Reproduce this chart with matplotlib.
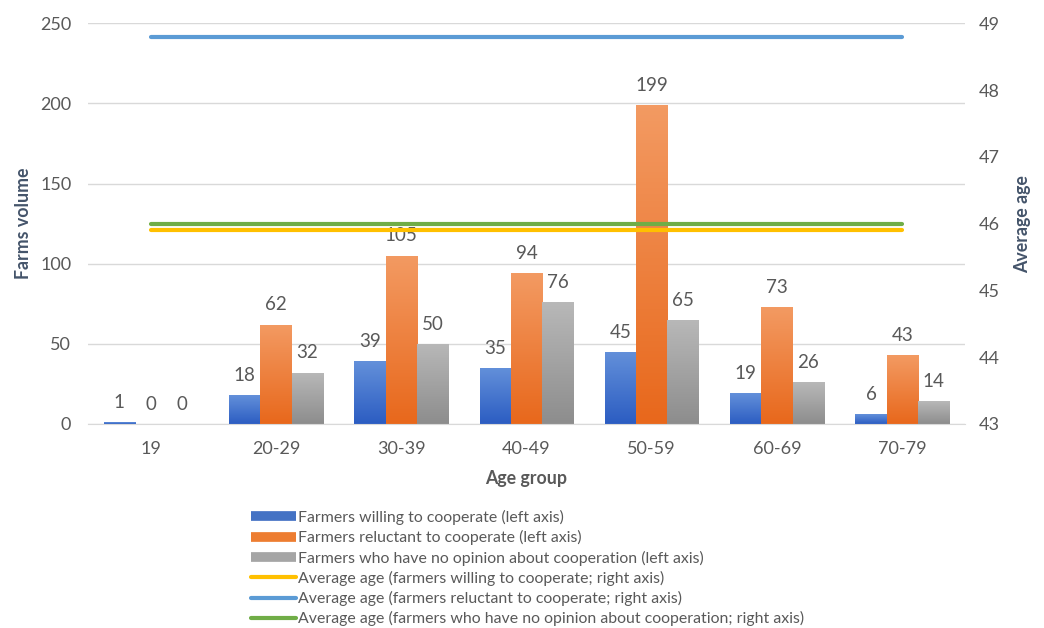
import numpy as np
import matplotlib.pyplot as plt
from matplotlib.lines import Line2D
from matplotlib.colors import LinearSegmentedColormap

plt.rcParams['font.family'] = ['Lato', 'DejaVu Sans']

age_groups = ['19', '20-29', '30-39', '40-49', '50-59', '60-69', '70-79']
willing = [1, 18, 39, 35, 45, 19, 6]
reluctant = [0, 62, 105, 94, 199, 73, 43]
no_opinion = [0, 32, 50, 76, 65, 26, 14]

avg_willing = 45.9
avg_reluctant = 48.8
avg_no_opinion = 46.0

labels = ['Farmers willing to cooperate (left axis)',
          'Farmers reluctant to cooperate (left axis)',
          'Farmers who have no opinion about cooperation (left axis)',
          'Average age (farmers willing to cooperate; right axis)',
          'Average age (farmers reluctant to cooperate; right axis)',
          'Average age (farmers who have no opinion about cooperation; right axis)']

txt = '#595959'
bar_grads = [('#6390DA', '#2C5DC2'), ('#F39A62', '#E8681C'), ('#B8B8B8', '#8D8D8D')]
bar_flat = ['#4472C4', '#ED7D31', '#A5A5A5']
line_cols = ['#FFC000', '#5B9BD5', '#70AD47']

fig = plt.figure(figsize=(10.44, 6.28), dpi=100)
ax = fig.add_axes([0.0843, 0.325, 0.84, 0.638])
ax2 = ax.twinx()

x = np.arange(len(age_groups))
w = 0.25
series = [willing, reluctant, no_opinion]
for k, vals in enumerate(series):
    bars = ax.bar(x + (k - 1) * w, vals, w, color=bar_flat[k], zorder=2)
    cmap = LinearSegmentedColormap.from_list('g', [bar_grads[k][1], bar_grads[k][0]])
    for b, v in zip(bars, vals):
        if v > 0:
            # vertical gradient fill, clipped to the bar
            grad = np.linspace(0, 1, 100).reshape(-1, 1)
            im = ax.imshow(grad, cmap=cmap, origin='lower', aspect='auto',
                           extent=[b.get_x(), b.get_x() + b.get_width(), 0, v], zorder=2)
            im.set_clip_path(b)
        ax.text(b.get_x() + b.get_width() / 2, v + 7, str(v), ha='center', va='bottom',
                fontsize=13.5, color=txt)

ax.set_xlim(-0.5, len(age_groups) - 0.5)
ax.set_ylim(0, 250)
ax.set_yticks(range(0, 251, 50))
ax.set_xticks(x)
ax.set_xticklabels(age_groups)
ax.grid(axis='y', color='#D9D9D9', lw=1, zorder=0)
ax.set_axisbelow(True)
for s in ['top', 'left', 'right']:
    ax.spines[s].set_visible(False)
ax.spines['bottom'].set_color('#D9D9D9')
ax.tick_params(length=0, labelsize=13, colors=txt, pad=12)
ax.set_xlabel('Age group', fontsize=12.8, fontweight='bold', color=txt, labelpad=10)
ax.set_ylabel('Farms volume', fontsize=12.8, fontweight='bold', color='#44546A', labelpad=6)

for val, c in zip([avg_willing, avg_reluctant, avg_no_opinion], line_cols):
    ax2.plot(x, [val] * len(x), color=c, lw=3, solid_capstyle='round', zorder=3)
ax2.set_ylim(43, 49)
ax2.set_yticks(range(43, 50))
for s in ax2.spines.values():
    s.set_visible(False)
ax2.tick_params(length=0, labelsize=13, colors=txt, pad=10)
ax2.set_ylabel('Average age', fontsize=12.8, fontweight='bold', color='#44546A', labelpad=10)

handles = [Line2D([], [], color=c, lw=7, solid_capstyle='butt') for c in bar_flat]
handles += [Line2D([], [], color=c, lw=3, solid_capstyle='round') for c in line_cols]
fig.legend(handles, labels, loc='upper left', bbox_to_anchor=(0.24, 0.188),
           frameon=False, fontsize=11.4, handlelength=2.9, handletextpad=0.08,
           labelspacing=0.33, borderaxespad=0, borderpad=0, labelcolor=txt)

fig.savefig('out.png', dpi=100)
